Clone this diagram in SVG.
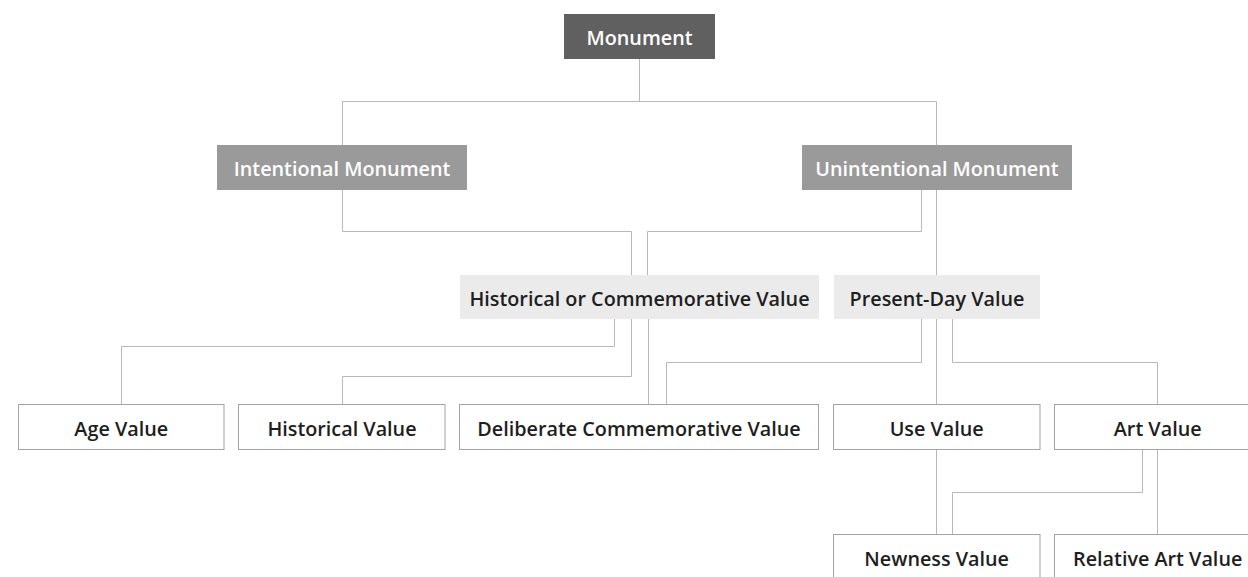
<svg xmlns="http://www.w3.org/2000/svg" width="1248" height="577" viewBox="0 0 1248 577">
<style>
  text { font-family: "Open Sans", "Liberation Sans", sans-serif; font-size: 19.8px; font-weight: 600; text-anchor: middle; }
  .dark rect { fill: #606060; }
  .mid rect { fill: #9a9a9a; }
  .light rect { fill: #ebebeb; }
  .plain rect { fill: #ffffff; stroke: #a3a3a3; stroke-width: 1; }
  .dark text, .mid text { fill: #ffffff; }
  .light text, .plain text { fill: #1e1e1e; }
  #connectors path { fill: none; stroke: #b8b8b8; stroke-width: 1; }
</style>
<rect width="1248" height="577" fill="#ffffff"/>
<g id="connectors">
  <path d="M639.5,59 V101.5 H342.5 V145"/>
  <path d="M639.5,101.5 H936.5 V145"/>
  <path d="M936.5,190 V275"/>
  <path d="M342.5,190 V231.5 H631.5 V275"/>
  <path d="M921.5,190 V231.5 H647.5 V275"/>
  <path d="M614.5,319 V346.5 H121.5 V404.5"/>
  <path d="M631.5,319 V376.5 H342.5 V404.5"/>
  <path d="M648.5,319 V404.5"/>
  <path d="M921.5,319 V362.5 H666.5 V404.5"/>
  <path d="M936.5,319 V404.5"/>
  <path d="M952.5,319 V362.5 H1157.5 V404.5"/>
  <path d="M936.5,449 V534.5"/>
  <path d="M1142.5,449 V492.5 H952.5 V534.5"/>
  <path d="M1157.5,449 V534.5"/>
</g>
<g id="monument" class="dark"><rect x="564" y="14" width="151" height="45"/><text x="639.5" y="45">Monument</text></g>
<g id="intentional" class="mid"><rect x="217" y="145" width="250" height="45"/><text x="342" y="176">Intentional Monument</text></g>
<g id="unintentional" class="mid"><rect x="802" y="145" width="270" height="45"/><text x="937" y="176">Unintentional Monument</text></g>
<g id="historical-commemorative" class="light"><rect x="460" y="275" width="359" height="44"/><text x="639.5" y="306">Historical or Commemorative Value</text></g>
<g id="present-day" class="light"><rect x="834" y="275" width="206" height="44"/><text x="937" y="306">Present-Day Value</text></g>
<g id="age" class="plain"><rect x="18.5" y="404.5" width="205.5" height="45"/><text x="121.3" y="435.5">Age Value</text></g>
<g id="historical-value" class="plain"><rect x="238.5" y="404.5" width="206.5" height="45"/><text x="342" y="435.5">Historical Value</text></g>
<g id="deliberate" class="plain"><rect x="459.5" y="404.5" width="359" height="45"/><text x="639" y="435.5">Deliberate Commemorative Value</text></g>
<g id="use" class="plain"><rect x="833.5" y="404.5" width="206.5" height="45"/><text x="936.7" y="435.5">Use Value</text></g>
<g id="art" class="plain"><rect x="1054.5" y="404.5" width="206.5" height="45"/><text x="1157.7" y="435.5">Art Value</text></g>
<g id="newness" class="plain"><rect x="833.5" y="534.5" width="206.5" height="45"/><text x="936.7" y="565.5">Newness Value</text></g>
<g id="relative-art" class="plain"><rect x="1054.5" y="534.5" width="206.5" height="45"/><text x="1157.7" y="565.5">Relative Art Value</text></g>
</svg>
